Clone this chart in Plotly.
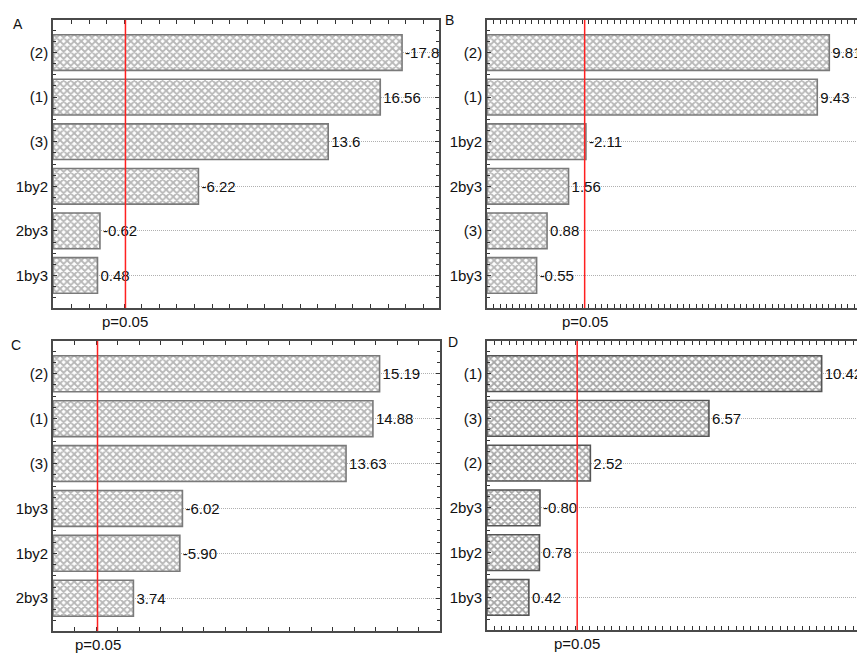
import numpy as np
import plotly.graph_objects as go

# ---- data ----
A_terms = ["(2)", "(1)", "(3)", "1by2", "2by3", "1by3"]
A_effects = ["-17.8", "16.56", "13.6", "-6.22", "-0.62", "0.48"]
B_terms = ["(2)", "(1)", "1by2", "2by3", "(3)", "1by3"]
B_effects = ["9.81", "9.43", "-2.11", "1.56", "0.88", "-0.55"]
C_terms = ["(2)", "(1)", "(3)", "1by3", "1by2", "2by3"]
C_effects = ["15.19", "14.88", "13.63", "-6.02", "-5.90", "3.74"]
D_terms = ["(1)", "(3)", "(2)", "2by3", "1by2", "1by3"]
D_effects = ["10.42", "6.57", "2.52", "-0.80", "0.78", "0.42"]
panel_letters = ["A", "B", "C", "D"]
P_CRIT = 2.07
P_LABEL = "p=0.05"

OFF = 8  # page body margin
W, H = 865 - OFF, 653 - OFF
FONT = "Liberation Sans, Arial, sans-serif"

# ---- layout geometry (pixels in the window) ----
panels = [
    dict(terms=A_terms, eff=A_effects, px=(53, 439), py=(20, 308), xr=(-2.05, 19.9), dt=1.0,
         mirror_y=True, fg="#707070", line="#7a7a7a", letter_xy=(18, 24)),
    dict(terms=B_terms, eff=B_effects, px=(487, 865), py=(20, 308), xr=(-1.02, 10.94), dt=0.2,
         mirror_y=False, fg="#707070", line="#7a7a7a", letter_xy=(449, 20)),
    dict(terms=C_terms, eff=C_effects, px=(53, 440), py=(341, 631), xr=(0.0, 18.0), dt=1.0,
         mirror_y=True, fg="#707070", line="#7a7a7a", letter_xy=(16, 345)),
    dict(terms=D_terms, eff=D_effects, px=(487, 865), py=(341, 630), xr=(-1.01, 11.9), dt=0.25,
         mirror_y=False, fg="#505050", line="#555555", letter_xy=(453, 342)),
]

fig = go.Figure()
layout = dict(
    width=W, height=H, margin=dict(l=0, r=0, t=0, b=0),
    paper_bgcolor="white", plot_bgcolor="white", showlegend=False,
    font=dict(family=FONT, size=15, color="#111"),
)
shapes, annotations = [], []
YR = [5.73, -0.73]

for i, p in enumerate(panels):
    n = "" if i == 0 else str(i + 1)
    xa, ya = "x" + n, "y" + n
    vals = np.abs(np.array([float(v) for v in p["eff"]]))
    xmin = p["xr"][0]
    fig.add_trace(go.Bar(
        x=vals - xmin, base=xmin, y=np.arange(len(vals)), orientation="h", width=0.8,
        xaxis=xa, yaxis=ya,
        marker=dict(color="white", line=dict(color=p["line"], width=1.6),
                    pattern=dict(shape="x", fgcolor=p["fg"], bgcolor="white", size=5, solidity=0.6)),
        text=p["eff"], textposition="outside", cliponaxis=False, constraintext="none",
        textfont=dict(size=15, color="#111", family=FONT),
        hoverinfo="skip",
    ))
    dx = [(p["px"][0] - OFF) / W, min(1.0, (p["px"][1] - OFF) / W)]
    dy = [1 - (p["py"][1] - OFF) / H, 1 - (p["py"][0] - OFF) / H]
    layout["xaxis" + n] = dict(
        domain=dx, range=list(p["xr"]), anchor=ya, showticklabels=False,
        ticks="inside", ticklen=4, tickcolor="#333", dtick=p["dt"], tick0=0,
        showline=True, linecolor="#4a4a4a", linewidth=1.6, mirror="ticks",
        showgrid=False, zeroline=False,
    )
    layout["yaxis" + n] = dict(
        domain=dy, range=YR, anchor=xa, tickmode="array",
        tickvals=list(range(len(p["terms"]))), ticktext=p["terms"],
        ticks="inside", ticklen=4, tickcolor="#333",
        minor=dict(tickvals=list(np.arange(-0.5, 5.76, 0.25)), ticks="inside", ticklen=3,
                   tickcolor="#333", showgrid=False),
        showline=True, linecolor="#4a4a4a", linewidth=1.6,
        mirror="ticks" if p["mirror_y"] else False,
        showgrid=True, gridcolor="#b0b0b0", griddash="1px,1px", gridwidth=1,
        zeroline=False, tickfont=dict(size=15, color="#111"),
    )
    shapes.append(dict(type="line", xref=xa, yref=ya + " domain", x0=P_CRIT, x1=P_CRIT,
                       y0=0, y1=1, line=dict(color="#ff2020", width=1.5), layer="above"))
    annotations.append(dict(text=P_LABEL, xref=xa, yref=ya + " domain", x=P_CRIT, y=0,
                            yshift=-4, yanchor="top", xanchor="center", showarrow=False,
                            borderpad=0, font=dict(size=15, color="#111")))
    lx, ly = p["letter_xy"]
    annotations.append(dict(text=panel_letters[i], xref="paper", yref="paper",
                            x=(lx - OFF) / W, y=1 - (ly - OFF) / H, xanchor="center", yanchor="middle",
                            showarrow=False, font=dict(size=14, color="#111")))

layout["shapes"] = shapes
layout["annotations"] = annotations
fig.update_layout(**layout)
fig.write_html("out.html")
